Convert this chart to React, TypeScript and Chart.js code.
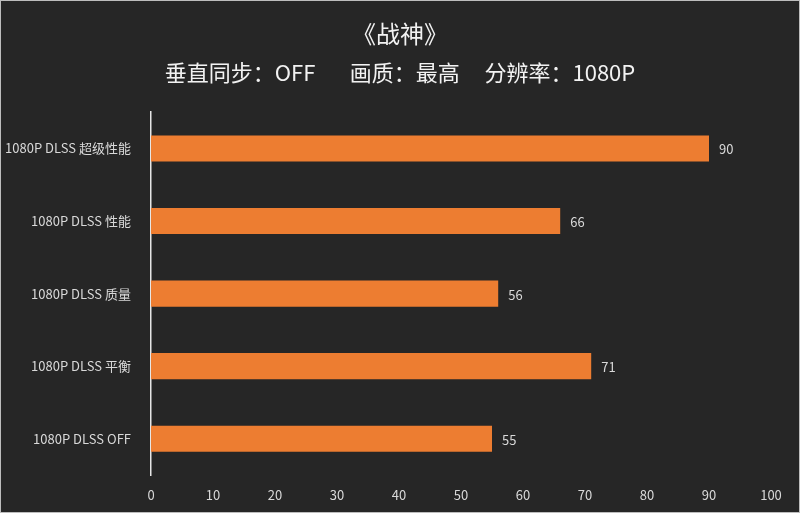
import React, { useEffect, useRef } from "react";
import { Chart, registerables } from "chart.js";

Chart.register(...registerables);

const categories = ["1080P DLSS 超级性能", "1080P DLSS 性能", "1080P DLSS 质量", "1080P DLSS 平衡", "1080P DLSS OFF"];
const fps = [90, 66, 56, 71, 55];
const titleText = "《战神》";
const subtitleText = "垂直同步：OFF       画质：最高     分辨率：1080P";

const FONT = "'Noto Sans CJK SC', 'Noto Sans', sans-serif";

// подписи значений справа от столбцов
const valueLabels = {
  id: "valueLabels",
  afterDatasetsDraw(chart: any) {
    const ctx = chart.ctx;
    const meta = chart.getDatasetMeta(0);
    ctx.save();
    ctx.fillStyle = "#d9d9d9";
    ctx.font = `13px ${FONT}`;
    ctx.textAlign = "left";
    ctx.textBaseline = "middle";
    meta.data.forEach((bar: any, i: number) => {
      ctx.fillText(String(fps[i]), bar.x + 10, bar.y + 1);
    });
    ctx.restore();
  },
};

const GodOfWarChart = () => {
  const chartRef = useRef<HTMLCanvasElement | null>(null);

  useEffect(() => {
    if (!chartRef.current) return;
    const myChart = new Chart(chartRef.current, {
      type: "bar",
      data: {
        labels: categories,
        datasets: [
          {
            data: fps,
            backgroundColor: "#ed7d31",
            barPercentage: 0.72,
            categoryPercentage: 0.5,
          },
        ],
      },
      plugins: [valueLabels],
      options: {
        indexAxis: "y",
        animation: false,
        responsive: false,
        plugins: {
          legend: { display: false },
          tooltip: { enabled: false },
          title: {
            display: true,
            text: titleText,
            color: "#f2f2f2",
            font: { family: FONT, size: 24, weight: "normal" },
            padding: { top: 18, bottom: 12 },
          },
          subtitle: {
            display: true,
            text: subtitleText,
            color: "#f2f2f2",
            font: { family: FONT, size: 22, weight: "normal" },
            padding: { top: 0, bottom: 26 },
          },
        },
        scales: {
          x: {
            min: 0,
            max: 100,
            ticks: { stepSize: 10, color: "#d9d9d9", font: { family: FONT, size: 13 }, padding: 4 },
            grid: { display: false },
            border: { display: false },
            afterFit: (scale: any) => {
              scale.height = 37;
              scale.paddingRight = 28; // правый край области графика ~770px
            },
          },
          y: {
            ticks: { color: "#d9d9d9", font: { family: FONT, size: 13 }, padding: 12 },
            grid: { display: false },
            border: { display: true, color: "#e6e6e6", width: 1.5 },
            afterFit: (scale: any) => {
              scale.width = 150;
            },
          },
        },
      },
    });
    return () => {
      myChart.destroy();
    };
  }, []);

  return (
    <div
      style={{
        position: "fixed",
        left: 0,
        top: 0,
        width: 800,
        height: 513,
        background: "#262626",
        boxSizing: "border-box",
        border: "1px solid #bdbdbd",
      }}
    >
      <canvas ref={chartRef} width={798} height={511} style={{ display: "block" }}></canvas>
    </div>
  );
};

export default function App() {
  return <GodOfWarChart />;
}
